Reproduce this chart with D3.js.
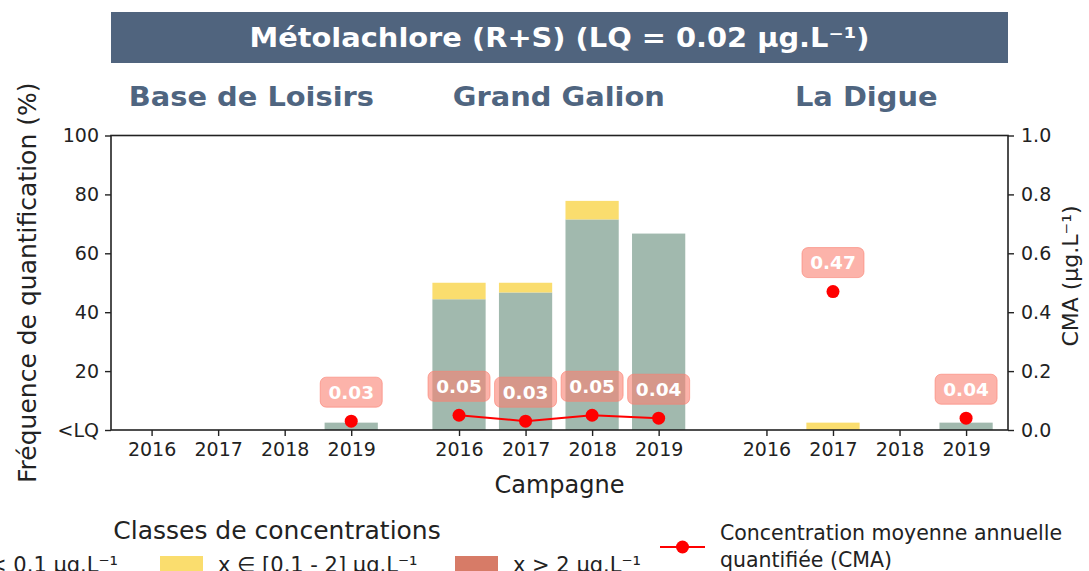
<!DOCTYPE html>
<html>
<head>
<meta charset="utf-8">
<script src="https://cdn.jsdelivr.net/npm/d3@7"></script>
<style>
  html, body { margin: 0; padding: 0; background: #fff; }
  svg { display: block; font-family: "DejaVu Sans", sans-serif; }
</style>
</head>
<body>
<svg id="chart" width="1089" height="571"></svg>
<script>
// Sampling sites and campaign years
const sites = ["Base de Loisirs", "Grand Galion", "La Digue"];
const years = ["2016", "2017", "2018", "2019"];

// Quantification frequency (%) by concentration class, one row per site
const freqLow  = [[0, 0, 0, 2.5], [44.4, 46.7, 71.5, 66.7], [0, 0, 0, 2.5]];   // x < 0.1 µg/L
const freqMid  = [[0, 0, 0, 0],   [5.6, 3.3, 6.3, 0],       [0, 2.5, 0, 0]];   // 0.1 – 2 µg/L
const freqHigh = [[0, 0, 0, 0],   [0, 0, 0, 0],             [0, 0, 0, 0]];     // x > 2 µg/L

// Annual mean quantified concentration (µg/L); null = nothing quantified
const cma = [[null, null, null, 0.03], [0.05, 0.03, 0.05, 0.04], [null, 0.47, null, 0.04]];

// Axis tick labels
const leftTicks = [0, 20, 40, 60, 80, 100];
const leftTickLabels = ["<LQ", "20", "40", "60", "80", "100"];
const rightTicks = [0, 0.2, 0.4, 0.6, 0.8, 1.0];

const title = "Métolachlore (R+S) (LQ = 0.02 µg.L⁻¹)";
const classLabels = ["x < 0.1 µg.L⁻¹", "x ∈ [0.1 - 2] µg.L⁻¹", "x > 2 µg.L⁻¹"];
const classColors = ["#a1b9ae", "#fadd6e", "#d77b67"];

const svg = d3.select("#chart");
const plot = { left: 111, right: 1008, top: 135.5, bottom: 430 };
const groupGap = 0.62; // extra space between sites, in year units

// Stretch or squeeze a text run horizontally by a factor
function stretch(sel, factor) {
  sel.each(function () {
    const w = this.getComputedTextLength();
    d3.select(this).attr("textLength", w * factor).attr("lengthAdjust", "spacingAndGlyphs");
  });
}

// Position of each (site, year) on a continuous x axis
const pos = (s, i) => s * (years.length + groupGap) + i;
const lastPos = pos(sites.length - 1, years.length - 1);

const x = d3.scaleLinear().domain([-0.61, lastPos + 0.63]).range([plot.left, plot.right]);
const yPct = d3.scaleLinear().domain([0, 100]).range([plot.bottom, plot.top]);
const yCma = d3.scaleLinear().domain([0, 1]).range([plot.bottom, plot.top]);
const barW = x(0.8) - x(0);

// Flatten records
const records = [];
sites.forEach((site, s) => years.forEach((yr, i) => {
  records.push({ s, i, site, year: yr, p: pos(s, i),
    low: freqLow[s][i], mid: freqMid[s][i], high: freqHigh[s][i], cma: cma[s][i] });
}));

// Title banner
svg.append("rect").attr("x", plot.left).attr("y", 12)
  .attr("width", plot.right - plot.left).attr("height", 51).attr("fill", "#50647e");
svg.append("text").attr("x", (plot.left + plot.right) / 2).attr("y", 47)
  .attr("text-anchor", "middle").attr("fill", "#fff")
  .attr("font-size", 26).attr("font-weight", "bold").text(title)
  .call(stretch, 1.11);

// Site names above each group
svg.selectAll("text.site").data(sites).join("text").attr("class", "site")
  .attr("x", (d, s) => x(pos(s, 1.5))).attr("y", 106)
  .attr("text-anchor", "middle").attr("fill", "#4f6580")
  .attr("font-size", 26).attr("font-weight", "bold").text(d => d)
  .call(stretch, 1.11);

// Stacked bars
const stackKeys = ["low", "mid", "high"];
const series = d3.stack().keys(stackKeys)(records);
svg.append("g").selectAll("g").data(series).join("g")
  .attr("fill", (d, k) => classColors[k])
  .selectAll("rect").data(d => d).join("rect")
  .attr("x", d => x(d.data.p) - barW / 2)
  .attr("width", barW)
  .attr("y", d => yPct(d[1]))
  .attr("height", d => yPct(d[0]) - yPct(d[1]));

// CMA line per site (breaks on missing years)
const line = d3.line().defined(d => d.cma !== null)
  .x(d => x(d.p)).y(d => yCma(d.cma));
sites.forEach((site, s) => {
  svg.append("path").datum(records.filter(r => r.s === s))
    .attr("fill", "none").attr("stroke", "#ff0000").attr("stroke-width", 2).attr("d", line);
});
const pts = records.filter(r => r.cma !== null);
svg.append("g").selectAll("circle").data(pts).join("circle")
  .attr("cx", d => x(d.p)).attr("cy", d => yCma(d.cma)).attr("r", 6.5).attr("fill", "#ff0000");

// Value labels in rounded boxes
const lab = svg.append("g").selectAll("g").data(pts).join("g")
  .attr("transform", d => `translate(${x(d.p)},${yCma(d.cma) - 29})`);
lab.append("rect").attr("x", -31).attr("y", -15).attr("width", 62).attr("height", 30)
  .attr("rx", 6).attr("fill", "#fa8072").attr("fill-opacity", 0.6)
  .attr("stroke", "#fa8072").attr("stroke-opacity", 0.6);
lab.append("text").attr("text-anchor", "middle").attr("dy", "0.36em")
  .attr("fill", "#fff").attr("font-size", 18.5).attr("font-weight", "bold")
  .text(d => d.cma.toFixed(2));

// Frame
svg.append("rect").attr("x", plot.left).attr("y", plot.top)
  .attr("width", plot.right - plot.left).attr("height", plot.bottom - plot.top)
  .attr("fill", "none").attr("stroke", "#222").attr("stroke-width", 1.6);

// Axes
const xAxis = d3.axisBottom(x).tickValues(records.map(r => r.p))
  .tickFormat((d, k) => records[k].year).tickSize(6).tickPadding(6);
const gx = svg.append("g").attr("transform", `translate(0,${plot.bottom})`).call(xAxis);
const yAxisL = d3.axisLeft(yPct).tickValues(leftTicks)
  .tickFormat((d, k) => leftTickLabels[k]).tickSize(6).tickPadding(6);
const gl = svg.append("g").attr("transform", `translate(${plot.left},0)`).call(yAxisL);
const yAxisR = d3.axisRight(yCma).tickValues(rightTicks)
  .tickFormat(d3.format(".1f")).tickSize(6).tickPadding(7);
const gr = svg.append("g").attr("transform", `translate(${plot.right},0)`).call(yAxisR);
[gx, gl, gr].forEach(g => {
  g.select(".domain").remove();
  g.selectAll(".tick line").attr("stroke", "#222").attr("stroke-width", 1.4);
  g.selectAll(".tick text").attr("fill", "#222").attr("font-size", 20)
    .attr("font-family", "DejaVu Sans, sans-serif")
    .call(stretch, 0.95);
});

// Axis titles
svg.append("text").attr("x", (plot.left + plot.right) / 2).attr("y", 493)
  .attr("text-anchor", "middle").attr("font-size", 24).attr("fill", "#222").text("Campagne");
svg.append("text").attr("transform", `translate(36,${(plot.top + plot.bottom) / 2}) rotate(-90)`)
  .attr("text-anchor", "middle").attr("font-size", 25).attr("fill", "#222")
  .text("Fréquence de quantification (%)");
svg.append("text").attr("transform", `translate(1078,276) rotate(-90)`)
  .attr("text-anchor", "middle").attr("font-size", 22).attr("fill", "#222")
  .text("CMA (µg.L⁻¹)");

// Legend: concentration classes
svg.append("text").attr("x", 277).attr("y", 539).attr("text-anchor", "middle")
  .attr("font-size", 25).attr("fill", "#222").text("Classes de concentrations");
const legendX = [-135, 160, 455];
const leg = svg.append("g").selectAll("g").data(classLabels).join("g")
  .attr("transform", (d, k) => `translate(${legendX[k]},556)`);
leg.append("rect").attr("width", 43).attr("height", 20).attr("fill", (d, k) => classColors[k]);
leg.filter((d, k) => k > 0).append("text").attr("x", 58).attr("y", 16)
  .attr("font-size", 21).attr("fill", "#222").text(d => d);
// first class label: its text ends just before the second patch
svg.append("text").attr("x", 118).attr("y", 572).attr("text-anchor", "end")
  .attr("font-size", 21).attr("fill", "#222").text(classLabels[0]);

// Legend: CMA
const lg = svg.append("g").attr("transform", "translate(660,547)");
lg.append("line").attr("x1", 0).attr("x2", 45).attr("stroke", "#ff0000").attr("stroke-width", 2);
lg.append("circle").attr("cx", 22.5).attr("r", 6.5).attr("fill", "#ff0000");
lg.append("text").attr("x", 60).attr("y", -7).attr("font-size", 20.5).attr("fill", "#222")
  .text("Concentration moyenne annuelle");
lg.append("text").attr("x", 60).attr("y", 20).attr("font-size", 20.5).attr("fill", "#222")
  .text("quantifiée (CMA)");
</script>
</body>
</html>
